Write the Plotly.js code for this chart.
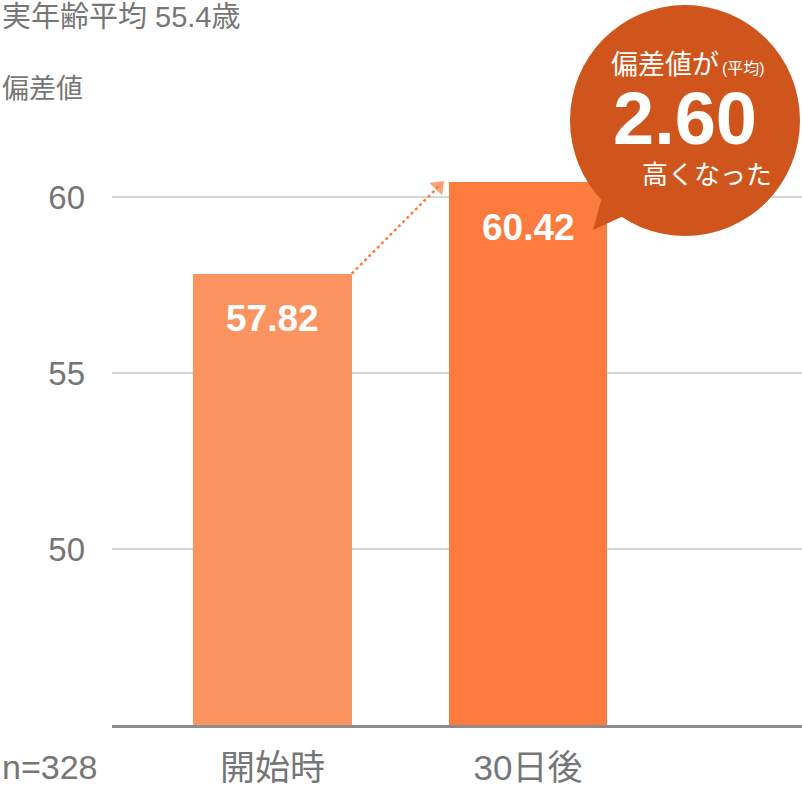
<!DOCTYPE html>
<html>
<head>
<meta charset="utf-8">
<script src="https://cdn.plot.ly/plotly-3.0.1.min.js"></script>
<style>
html,body{margin:0;padding:0;background:#fff;}
#chart{width:802px;height:790px;}
</style>
</head>
<body>
<div id="chart"></div>
<script>
// ---- data ----
const categories = ['開始時', '30日後'];
const scores = [57.82, 60.42];
const barColors = ['#FC9462', '#FD7B3C'];
const sampleLabel = 'n=328';
const ageLabel = '実年齢平均 55.4歳';
const yAxisLabel = '偏差値';
const yTickVals = [50, 55, 60];

const FONT = "'Liberation Sans', 'Noto Sans CJK JP', sans-serif";
const GRAY = '#767676';
const barWidth = 0.62;
const diff = (scores[1] - scores[0]).toFixed(2);

// paper coordinate helpers (plot area: x 112..802, y 100..725)
const W = 802, H = 790, mL = 112, mR = 0, mT = 100, mB = 65;
const px = v => (v - mL) / (W - mL - mR);
const py = v => (H - mB - v) / (H - mT - mB);

const bars = {
  type: 'bar',
  x: [0, 1],
  y: scores,
  width: barWidth,
  marker: {color: barColors, line: {width: 0}},
  hoverinfo: 'skip',
  showlegend: false
};

// dotted connector from top of first bar to top of second bar
const connector = {
  type: 'scatter',
  mode: 'lines+markers',
  x: [0 + barWidth / 2, 1 - barWidth / 2 - 0.04],
  y: [scores[0], scores[1] - 0.12],
  line: {color: '#FD7B3C', width: 2.5, dash: '3px,3px'},
  marker: {symbol: 'triangle-up', size: [0, 17], color: '#FD7B3C', angleref: 'previous'},
  hoverinfo: 'skip',
  showlegend: false,
  cliponaxis: false
};

const annotations = [];
// value labels in bars
scores.forEach((v, i) => {
  annotations.push({
    x: i, y: v, xref: 'x', yref: 'y',
    text: v.toFixed(2), showarrow: false,
    yshift: -45,
    font: {family: FONT, size: 37, color: '#ffffff', weight: 600}
  });
});
// top-left texts
annotations.push({xref: 'paper', yref: 'paper', x: px(0), y: py(17), xanchor: 'left', yanchor: 'middle',
  text: ageLabel, showarrow: false, font: {family: FONT, size: 29, color: GRAY}});
annotations.push({xref: 'paper', yref: 'paper', x: px(0), y: py(89), xanchor: 'left', yanchor: 'middle',
  text: yAxisLabel, showarrow: false, font: {family: FONT, size: 27, color: GRAY}});
annotations.push({xref: 'paper', yref: 'paper', x: px(0), y: py(767), xanchor: 'left', yanchor: 'middle',
  text: sampleLabel, showarrow: false, font: {family: FONT, size: 34, color: GRAY}});
// bubble texts
annotations.push({xref: 'paper', yref: 'paper', x: px(609), y: py(65), xanchor: 'left', yanchor: 'middle',
  text: '偏差値が', showarrow: false, font: {family: FONT, size: 27, color: '#ffffff'}});
annotations.push({xref: 'paper', yref: 'paper', x: px(720), y: py(68), xanchor: 'left', yanchor: 'middle',
  text: '(平均)', showarrow: false, font: {family: FONT, size: 16, color: '#ffffff'}});
annotations.push({xref: 'paper', yref: 'paper', x: px(685), y: py(119), xanchor: 'center', yanchor: 'middle',
  text: diff, showarrow: false, font: {family: FONT, size: 74, color: '#ffffff', weight: 600}});
annotations.push({xref: 'paper', yref: 'paper', x: px(774), y: py(175), xanchor: 'right', yanchor: 'middle',
  text: '高くなった', showarrow: false, font: {family: FONT, size: 26, color: '#ffffff'}});

const BUBBLE = '#CF551D';
const shapes = [
  {type: 'circle', xref: 'paper', yref: 'paper', layer: 'above',
   x0: px(570), x1: px(800), y0: py(236), y1: py(5),
   fillcolor: BUBBLE, line: {width: 0}},
  {type: 'path', xref: 'paper', yref: 'paper', layer: 'above',
   path: `M ${px(604)} ${py(190)} L ${px(593)} ${py(230)} L ${px(630)} ${py(213)} Z`,
   fillcolor: BUBBLE, line: {width: 0}}
];

const layout = {
  width: W, height: H,
  margin: {l: mL, r: mR, t: mT, b: mB, pad: 0},
  paper_bgcolor: '#ffffff',
  plot_bgcolor: '#ffffff',
  font: {family: FONT, color: GRAY},
  showlegend: false,
  bargap: 0,
  xaxis: {
    range: [-0.628, 2.072],
    tickvals: [0, 1],
    ticktext: categories,
    tickfont: {family: FONT, size: 35, color: GRAY},
    showgrid: false,
    zeroline: false,
    showline: true,
    linecolor: '#8c8c8c',
    linewidth: 2.5,
    ticks: '',
    ticklabelstandoff: 10,
    fixedrange: true
  },
  yaxis: {
    range: [45, 45 + (H - mT - mB) / 35.2],
    tickvals: yTickVals,
    ticktext: yTickVals.map(String),
    tickfont: {family: FONT, size: 33, color: GRAY},
    showgrid: true,
    gridcolor: '#d6d6d6',
    gridwidth: 2,
    zeroline: false,
    showline: false,
    ticks: '',
    ticklabelstandoff: 26,
    fixedrange: true
  },
  shapes: shapes,
  annotations: annotations
};

Plotly.newPlot('chart', [bars, connector], layout, {displayModeBar: false, staticPlot: true});
</script>
</body>
</html>
